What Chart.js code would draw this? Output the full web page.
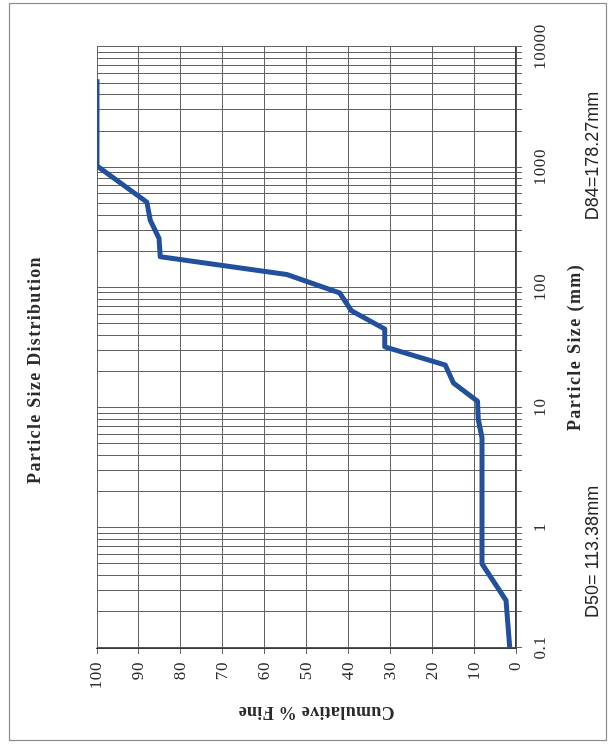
<!DOCTYPE html>
<html><head><meta charset="utf-8">
<script src="https://cdn.jsdelivr.net/npm/chart.js"></script>
<style>
html,body{margin:0;padding:0;background:#fff;overflow:hidden;width:613px;height:750px;}
#stage{position:absolute;left:0;top:0;width:750px;height:613px;transform-origin:0 0;transform:translateY(750px) rotate(-90deg);}
canvas{display:block;}
</style></head><body>
<div id="stage"><canvas id="c" width="750" height="613"></canvas></div>
<script>
// ---- data ----
const chartTitle = 'Particle Size Distribution';
const xAxisTitle = 'Particle Size (mm)';
const yAxisTitle = 'Cumulative % Fine';
const sizesMm     = [0.1, 0.25, 0.5, 5.6, 8, 11.3, 16, 22.6, 32, 45, 64, 90, 128, 180, 256, 362, 512, 1024, 5400];
const percentFine = [1.5, 2.4, 8.1, 8.1, 9.0, 9.2, 14.9, 16.9, 31.3, 31.3, 39.3, 42.1, 54.7, 84.9, 85.2, 87.3, 88.1, 100, 100];
const sizeTickLabels = ['0.1', '1', '10', '100', '1000', '10000'];
const percentTickLabels = ['0', '10', '20', '30', '40', '50', '60', '70', '80', '90', '100'];
const noteD84 = 'D84=178.27mm';
const noteD50 = 'D50= 113.38mm';

// ---- presentation ----
const serif = '"Liberation Serif", "Times New Roman", serif';
const inkColor = '#2b2b2b';
const gridColor = '#626262';

const decades = sizeTickLabels.map(Number);
const sizeGridValues = [];
decades.forEach((d, i) => {
  if (i < decades.length - 1) { for (let k = 1; k <= 9; k++) sizeGridValues.push(d * k); }
  else sizeGridValues.push(d);
});

const spacingPlugin = {
  id: 'spacing',
  afterLayout(chart) {
    const t = chart.titleBlock;
    if (t) { t.left = 10; t.right = 750; }
  },
  beforeDraw(chart) {
    const ctx = chart.ctx;
    const wrap = (obj, name, ls, dy) => {
      if (!obj || obj['__w_' + name]) return;
      const orig = obj[name];
      obj[name] = function (...a) {
        ctx.save();
        ctx.letterSpacing = ls;
        if (dy) ctx.translate(0, dy);
        try { return orig.apply(this, a); } finally { ctx.restore(); }
      };
      obj['__w_' + name] = true;
    };
    wrap(chart.titleBlock, 'draw', '1.3px', 0);
    wrap(chart.scales.x, 'drawTitle', '1.4px', 0);
    wrap(chart.scales.y, 'drawTitle', '0.3px', 10);
    wrap(chart.scales.x, 'drawLabels', '0.6px', 0);
    wrap(chart.scales.y, 'drawLabels', '0.6px', 0);
  }
};

const pagePlugin = {
  id: 'page',
  afterDraw(chart) {
    const ctx = chart.ctx;
    ctx.save();
    ctx.letterSpacing = '0px';
    ctx.strokeStyle = '#8c8c8c';
    ctx.lineWidth = 1.2;
    ctx.strokeRect(9.5, 9.5, 737, 597);
    ctx.fillStyle = '#262626';
    ctx.font = '18px "Liberation Sans", Arial, sans-serif';
    ctx.textAlign = 'center';
    ctx.textBaseline = 'alphabetic';
    ctx.fillText(noteD84, 594, 598);
    ctx.fillText(noteD50, 198, 598);
    ctx.restore();
  }
};

new Chart(document.getElementById('c'), {
  type: 'scatter',
  data: {
    datasets: [{
      data: sizesMm.map((s, i) => ({ x: s, y: percentFine[i] })),
      showLine: true,
      borderColor: '#22509c',
      backgroundColor: '#22509c',
      borderWidth: 5,
      pointRadius: 0,
      tension: 0,
      borderJoinStyle: 'round',
      clip: 0
    }]
  },
  options: {
    responsive: false,
    animation: false,
    devicePixelRatio: 1,
    layout: { padding: { left: 0, right: 47, top: 0, bottom: 0 } },
    plugins: {
      legend: { display: false },
      tooltip: { enabled: false },
      title: {
        display: true,
        text: chartTitle,
        color: inkColor,
        font: { family: serif, size: 18, weight: 'bold' },
        padding: { top: 24.2, bottom: 51.2 }
      }
    },
    scales: {
      x: {
        type: 'logarithmic',
        position: 'bottom',
        min: 0.1,
        max: 10000,
        afterBuildTicks: (s) => { s.ticks = sizeGridValues.map(v => ({ value: v })); },
        afterFit: (s) => { s.height = 97; },
        grid: { color: gridColor, lineWidth: 1, tickLength: 6, drawTicks: true },
        border: { display: true, color: '#3a3a3a', width: 1.3 },
        ticks: {
          autoSkip: false, maxRotation: 0, minRotation: 0, padding: 8,
          color: inkColor,
          font: { family: serif, size: 17 },
          callback: (v) => { const i = decades.indexOf(v); return i >= 0 ? sizeTickLabels[i] : ''; }
        },
        title: {
          display: true, text: xAxisTitle, color: inkColor,
          font: { family: serif, size: 18, weight: 'bold' },
          padding: { top: 0, bottom: 27 }
        }
      },
      y: {
        type: 'linear',
        position: 'left',
        min: 0,
        max: 100,
        afterBuildTicks: (s) => { s.ticks = percentTickLabels.map(t => ({ value: Number(t) })); },
        afterFit: (s) => { s.width = 102; },
        grid: { color: gridColor, lineWidth: 1, tickLength: 6, drawTicks: true },
        border: { display: true, color: '#3a3a3a', width: 1.3 },
        ticks: {
          padding: 8,
          color: inkColor,
          font: { family: serif, size: 17 },
          callback: (v) => { const i = percentTickLabels.indexOf(String(v)); return i >= 0 ? percentTickLabels[i] : ''; }
        },
        title: {
          display: true, text: yAxisTitle, color: inkColor,
          font: { family: serif, size: 18, weight: 'bold' },
          padding: { top: 28, bottom: 0 }
        }
      }
    }
  },
  plugins: [spacingPlugin, pagePlugin]
});
</script>
</body></html>
